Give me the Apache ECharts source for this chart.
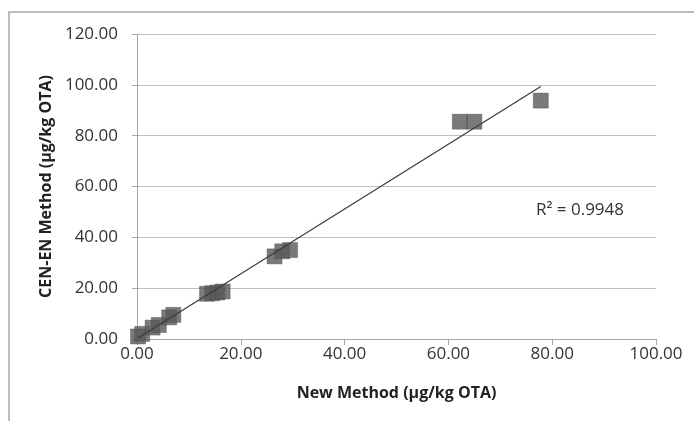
<!DOCTYPE html>
<html>
<head>
<meta charset="utf-8">
<script src="https://cdn.jsdelivr.net/npm/echarts@6/dist/echarts.min.js"></script>
<style>
html,body{margin:0;padding:0;background:#fff;}
#c{width:694px;height:421px;}
</style>
</head>
<body>
<div id="c"></div>
<script>
var newMethod = [0.2, 1.0, 3.0, 4.2, 6.2, 7.0, 13.5, 14.5, 15.5, 16.5, 26.5, 28.0, 29.5, 62.2, 65.0, 77.8];
var cenMethod = [1.0, 2.0, 4.5, 5.5, 8.5, 9.5, 17.8, 18.0, 18.3, 18.7, 32.5, 34.5, 35.0, 85.5, 85.5, 93.8];
var trendSlope = 1.275;
var trendIntercept = 0.15;
var r2Label = 'R² = 0.9948';
var xTitle = 'New Method (µg/kg OTA)';
var yTitle = 'CEN-EN Method (µg/kg OTA)';

var points = newMethod.map(function (x, i) { return [x, cenMethod[i]]; });
var xMin = Math.min.apply(null, newMethod), xMax = Math.max.apply(null, newMethod);
var trend = [[xMin, trendIntercept + trendSlope * xMin], [xMax, trendIntercept + trendSlope * xMax]];

var font = '"Open Sans", "Noto Sans", sans-serif';
var chart = echarts.init(document.getElementById('c'));
chart.setOption({
  animation: false,
  backgroundColor: '#fff',
  grid: { left: 137, right: 38, top: 34, bottom: 82 },
  xAxis: {
    type: 'value', min: 0, max: 100, interval: 20,
    name: xTitle, nameLocation: 'middle', nameGap: 46,
    nameTextStyle: { fontFamily: font, fontSize: 16, fontWeight: 'bold', color: '#222' },
    axisLine: { lineStyle: { color: '#a6a6a6' } },
    axisTick: { show: true, length: 6, lineStyle: { color: '#a6a6a6' } },
    axisLabel: { margin: 7, fontFamily: font, fontSize: 17, color: '#333', formatter: function (v) { return v.toFixed(2); } },
    splitLine: { show: false }
  },
  yAxis: {
    type: 'value', min: 0, max: 120, interval: 20,
    name: yTitle, nameLocation: 'middle', nameGap: 71, nameRotate: 90,
    nameTextStyle: { fontFamily: font, fontSize: 16, fontWeight: 'bold', color: '#222' },
    axisLine: { show: true, lineStyle: { color: '#a6a6a6' } },
    axisTick: { show: true, length: 5, lineStyle: { color: '#a6a6a6' } },
    axisLabel: { margin: 19, fontFamily: font, fontSize: 17, color: '#333', formatter: function (v) { return v.toFixed(2); } },
    splitLine: { show: true, lineStyle: { color: '#bfbfbf' } }
  },
  graphic: [
    { type: 'rect', silent: true, shape: { x: 9, y: 12, width: 720, height: 440 }, style: { fill: 'none', stroke: '#a6a6a6', lineWidth: 1.5 } },
    { type: 'text', left: 536, top: 202, style: { text: r2Label, font: '17px ' + font, fill: '#333' } }
  ],
  series: [
    { type: 'scatter', data: points, symbol: 'rect', symbolSize: 15, itemStyle: { color: '#595959', borderColor: '#4a4a4a', borderWidth: 0.5 }, z: 2 },
    { type: 'line', data: trend, symbol: 'none', lineStyle: { color: '#3a3a3a', width: 1.2 }, z: 3 }
  ]
});
</script>
</body>
</html>
